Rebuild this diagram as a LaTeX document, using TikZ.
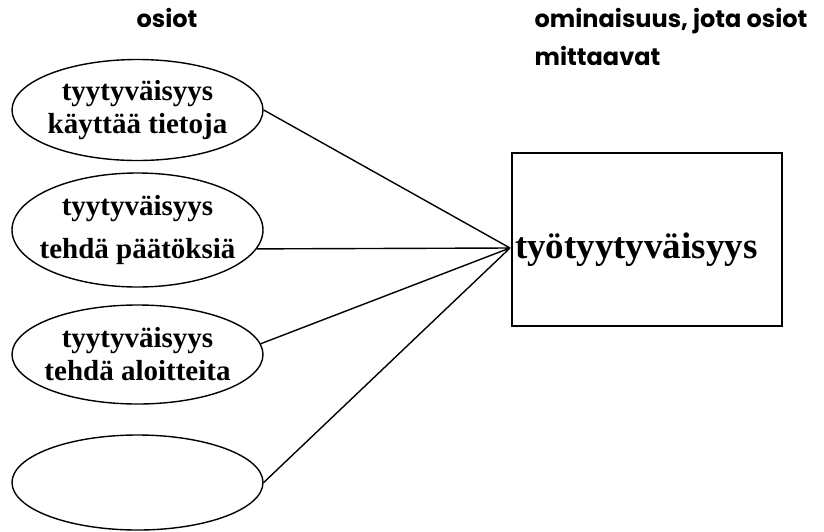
\documentclass[tikz,border=0pt]{standalone}
\usepackage{fontspec}
\setmainfont{Liberation Serif}
\newfontfamily\headfont{Poppins}
\usepackage{tikz}
\usetikzlibrary{shapes.geometric}

\begin{document}
\begin{tikzpicture}[x=1pt,y=-1pt]
\tikzstyle{every node}=[draw,line width=1.4pt,inner sep=0pt];
\tikzstyle{osio}=[shape=ellipse,minimum width=251pt,inner xsep=-25pt,inner ysep=-5pt,align=center,font=\fontsize{29}{33}\selectfont\bfseries];
\tikzstyle{otsikko}=[draw=none,align=left,font=\headfont\bfseries\fontsize{24}{38}\selectfont];
\useasboundingbox (0,0) rectangle (824,531);
\node [otsikko,anchor=base](h1) at (167,27) {osiot};
\node [otsikko,anchor=north west](h2) at (534,8) {ominaisuus, jota osiot\\mittaavat};
\node [osio,minimum height=101pt](o1) at (137.5,110) {tyytyväisyys\\käyttää tietoja};
\node [osio,minimum height=114pt](o2) at (137.5,230) {tyytyväisyys\\[10pt]tehdä päätöksiä};
\node [osio,minimum height=99pt](o3) at (137.5,354.5) {tyytyväisyys\\tehdä aloitteita};
\node [osio,minimum height=95pt](o4) at (137.5,482.5) {};
\node [rectangle,minimum width=270pt,minimum height=173pt,inner xsep=3pt,text width=264pt,align=left,
  text height=40pt,text depth=3pt,font=\fontsize{37}{40}\selectfont\bfseries](m) at (647,239.5) {työtyytyväisyys};
\coordinate (hub) at (510,248);
\draw [line width=1.4pt] (o1.east) -- (hub)
      (o2.-9) -- (hub)
      (o3.5) -- (hub)
      (o4.east) -- (hub);
\end{tikzpicture}
\end{document}
